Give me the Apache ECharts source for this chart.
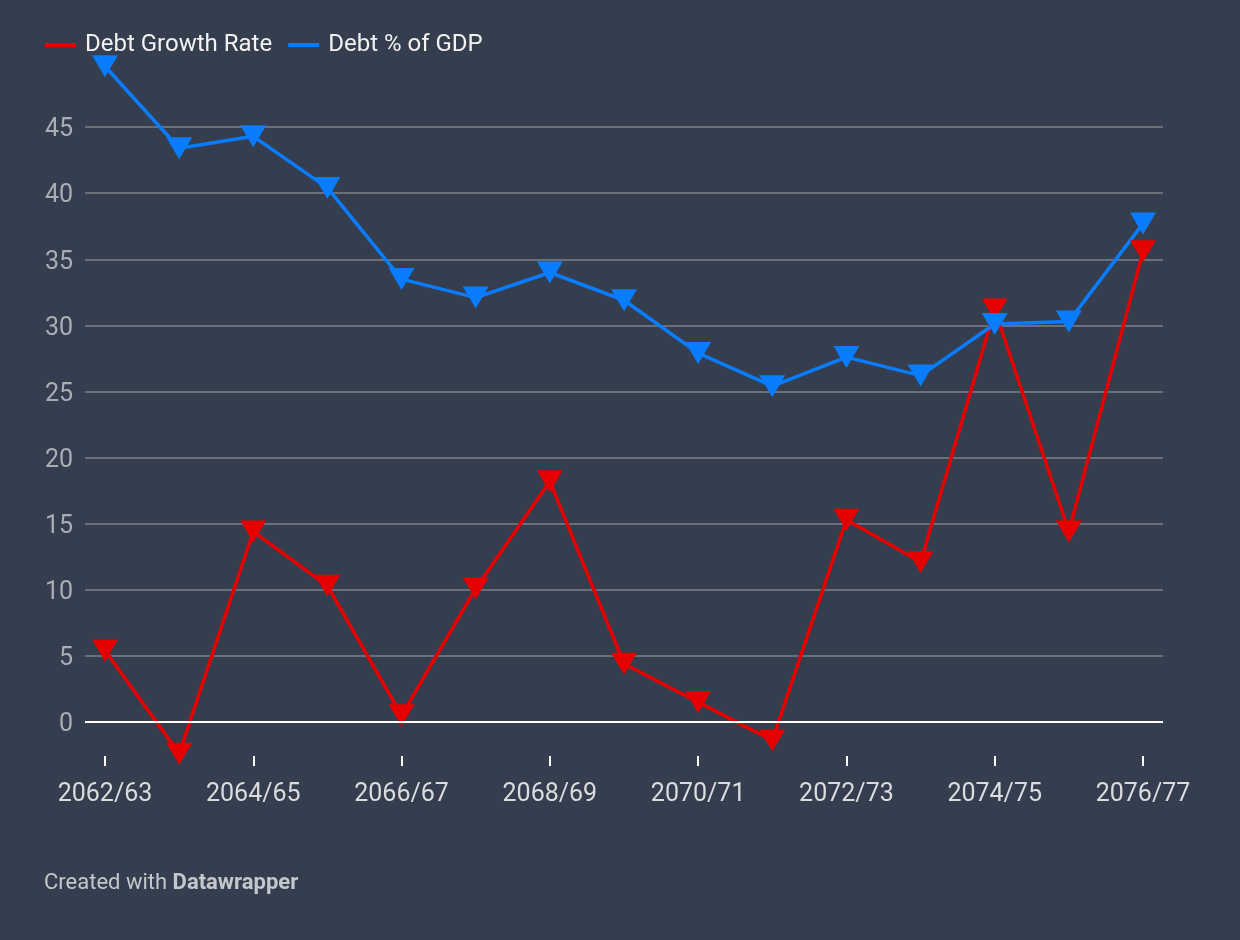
<!DOCTYPE html>
<html>
<head>
<meta charset="utf-8">
<script src="https://cdn.jsdelivr.net/npm/echarts@6/dist/echarts.min.js"></script>
<style>
html,body{margin:0;padding:0;background:#343e4e;}
#chart{width:1240px;height:940px;}
</style>
</head>
<body>
<div id="chart"></div>
<script>
const categories = ['2062/63','2063/64','2064/65','2065/66','2066/67','2067/68','2068/69','2069/70','2070/71','2071/72','2072/73','2073/74','2074/75','2075/76','2076/77'];
const debtGrowthRate = [5.4, -2.4, 14.4, 10.3, 0.5, 10.1, 18.2, 4.4, 1.5, -1.4, 15.3, 12.1, 31.2, 14.4, 35.6];
const debtPctGDP = [49.6, 43.4, 44.3, 40.4, 33.5, 32.1, 34.0, 31.9, 27.9, 25.4, 27.6, 26.2, 30.1, 30.3, 37.7];
const yTicks = [-5, 0, 5, 10, 15, 20, 25, 30, 35, 40, 45, 50];

const RED = '#e60000', BLUE = '#0a7cff';
const chart = echarts.init(document.getElementById('chart'));
const gridColors = yTicks.map(v => (v === -5 || v === 50 || v === 0) ? 'rgba(0,0,0,0)' : '#7d8188');

// grid 0: y from -5 (y=788) to 50 (y=61). grid 1 shares the scale but ends at y=756.
const G_TOP = 61, G0_BOTTOM = 788, G1_BOTTOM = 756, Y_MAX = 50;
const pxPerUnit = (G0_BOTTOM - G_TOP) / (Y_MAX + 5);
const zeroY = G0_BOTTOM - 5 * pxPerUnit;
const y1Min = -(G1_BOTTOM - zeroY) / pxPerUnit;

chart.setOption({
  backgroundColor: '#343e4e',
  textStyle: {fontFamily: 'Roboto'},
  legend: {
    left: 40, top: 28,
    data: ['Debt Growth Rate', 'Debt % of GDP'],
    icon: 'rect', itemWidth: 31, itemHeight: 4, itemGap: 16,
    textStyle: {color: '#f2f2f2', fontSize: 24, fontFamily: 'Roboto', padding: [0, 0, 0, 4]}
  },
  grid: [
    {left: 85, right: 77, top: G_TOP, bottom: 940 - G0_BOTTOM},
    {left: 105, right: 97, top: G_TOP, bottom: 940 - G1_BOTTOM}
  ],
  xAxis: [
    {gridIndex: 0, type: 'value', min: 0, max: 1, show: false},
    {gridIndex: 1, type: 'category', data: categories, boundaryGap: false,
     axisLine: {show: false, onZero: false},
     axisTick: {show: true, inside: false, length: 10, interval: 1, lineStyle: {color: '#ffffff', width: 2}},
     axisLabel: {interval: 1, color: '#dadcdf', fontSize: 25, margin: 26, fontFamily: 'Roboto'},
     splitLine: {show: false}}
  ],
  yAxis: [
    {gridIndex: 0, type: 'value', min: -5, max: Y_MAX, interval: 5,
     axisLine: {show: false}, axisTick: {show: false},
     axisLabel: {color: '#a9aeb5', fontSize: 25, margin: 12, fontFamily: 'Roboto',
       verticalAlign: 'top', lineHeight: 6,
       formatter: v => (v === -5 || v === 50) ? '' : String(v)},
     splitLine: {show: true, lineStyle: {color: gridColors, width: 1.5}}},
    {gridIndex: 1, type: 'value', min: y1Min, max: Y_MAX, show: false, splitLine: {show: false}}
  ],
  series: [
    {type: 'line', xAxisIndex: 0, yAxisIndex: 0, data: [], silent: true,
     markLine: {silent: true, symbol: ['none', 'none'], label: {show: false},
       lineStyle: {color: '#ffffff', width: 2, type: 'solid'}, data: [{yAxis: 0}]}},
    {name: 'Debt Growth Rate', type: 'line', xAxisIndex: 1, yAxisIndex: 1, data: debtGrowthRate,
     color: RED, lineStyle: {width: 3.5, color: RED}, clip: false,
     symbol: 'triangle', symbolRotate: 180, symbolSize: [26, 22], showAllSymbol: true,
     itemStyle: {color: RED}},
    {name: 'Debt % of GDP', type: 'line', xAxisIndex: 1, yAxisIndex: 1, data: debtPctGDP,
     color: BLUE, lineStyle: {width: 3.5, color: BLUE}, clip: false,
     symbol: 'triangle', symbolRotate: 180, symbolSize: [26, 22], showAllSymbol: true,
     itemStyle: {color: BLUE}}
  ],
  graphic: [{
    type: 'text', left: 44, top: 872,
    style: {
      text: '{a|Created with }{b|Datawrapper}',
      rich: {
        a: {fill: '#c4c7cc', fontSize: 22, fontFamily: 'Roboto'},
        b: {fill: '#c4c7cc', fontSize: 22, fontFamily: 'Roboto', fontWeight: 'bold'}
      }
    }
  }],
  animation: false
});
</script>
</body>
</html>
